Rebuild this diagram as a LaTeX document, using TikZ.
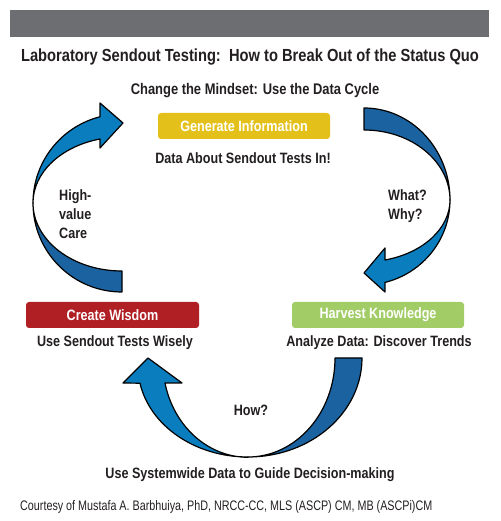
\documentclass[tikz,border=0pt]{standalone}
\usepackage{fontspec}
\newfontfamily\cond{Liberation Sans}[FakeStretch=0.84]
\newfontfamily\condthin{Liberation Sans}[FakeStretch=0.78]
\usetikzlibrary{positioning}
\definecolor{barGray}{HTML}{6D6E71}
\definecolor{inkBlack}{HTML}{231F20}
\definecolor{genYellow}{HTML}{E4C11A}
\definecolor{wisRed}{HTML}{B01F24}
\definecolor{harGreen}{HTML}{A2CC66}
\definecolor{lightBlue}{HTML}{0A7DBE}
\definecolor{darkBlue}{HTML}{1B63A0}

\begin{document}
\begin{tikzpicture}[x=1pt,y=1pt,
    lbl/.style={font=\cond\bfseries\fontsize{15}{19}\selectfont,text=inkBlack,
      inner sep=0pt},
    stage/.style={lbl,text=white,rounded corners=3pt,minimum width=172pt,
      minimum height=26pt},
    ribbon/.style={draw=black,line width=1.2pt,line join=round}]

    \useasboundingbox (0,0) rectangle (500,521);

    % the header
    \fill[barGray] (10,484) rectangle (489,511);
    \node[lbl,font=\cond\bfseries\fontsize{17.5}{20}\selectfont] (title) at (250,464)
      {Laboratory Sendout Testing:\ \ How to Break Out of the Status Quo};
    \node[lbl,font=\cond\bfseries\fontsize{15.4}{19}\selectfont] (mindset) at (255,430)
      {Change the Mindset: Use the Data Cycle};

    % the stages
    \node[stage,fill=genYellow] (gen) at (244,395) {Generate Information};
    \node[lbl] (gentxt) at (243,363) {Data About Sendout Tests In!};
    \node[stage,fill=wisRed,minimum width=173pt] (wis) at (112.5,206) {Create Wisdom};
    \node[lbl] (wistxt) at (115,178) {Use Sendout Tests Wisely};
    \node[stage,fill=harGreen] (har) at (378,206) {Harvest Knowledge};
    \node[lbl] (hartxt) at (379,178) {Analyze Data: Discover Trends};

    % the arrows
    \filldraw[ribbon,fill=darkBlue] (122,229)
      arc[start angle=-90,end angle=-180,radius=89pt]
      arc[start angle=180,end angle=270,x radius=89pt,y radius=68pt] -- cycle;
    \filldraw[ribbon,fill=lightBlue] (33,318)
      arc[start angle=180,end angle=104.3,radius=89pt]
      -- (100,418) -- (123,398) -- (100,373) -- (100,382)
      arc[start angle=104.3,end angle=180,x radius=89pt,y radius=66pt] -- cycle;

    \filldraw[ribbon,fill=darkBlue] (364,413)
      arc[start angle=90,end angle=0,x radius=86pt,y radius=92pt]
      arc[start angle=0,end angle=90,x radius=86pt,y radius=70pt] -- cycle;
    \filldraw[ribbon,fill=lightBlue] (450,321)
      arc[start angle=0,end angle=-75.9,x radius=86pt,y radius=85pt]
      -- (385,229) -- (364,248) -- (385,273) -- (385,261)
      arc[start angle=-75.9,end angle=0,x radius=86pt,y radius=62pt] -- cycle;

    \filldraw[ribbon,fill=darkBlue] (248,64)
      arc[start angle=270,end angle=360,x radius=114pt,y radius=99pt]
      -- (335,163)
      arc[start angle=0,end angle=-90,x radius=87pt,y radius=99pt] -- cycle;
    \filldraw[ribbon,fill=lightBlue] (248,64)
      arc[start angle=270,end angle=190.9,x radius=110pt,y radius=91pt]
      -- (123,138) -- (148,163) -- (182,138) -- (165,138)
      arc[start angle=192.6,end angle=270,x radius=85pt,y radius=95pt] -- cycle;

    % the questions
    \node[lbl,align=left,anchor=west] (care) at (59,307) {High-\\value\\Care};
    \node[lbl,align=left,anchor=west] (why) at (388,315) {What?\\Why?};
    \node[lbl] (how) at (251,111) {How?};
    \node[lbl] (system) at (250,46) {Use Systemwide Data to Guide Decision-making};

    % the credit
    \node[lbl,font=\condthin\fontsize{13.8}{16}\selectfont,anchor=west] (credit) at (20,14)
      {Courtesy of Mustafa A. Barbhuiya, PhD, NRCC-CC, MLS (ASCP) CM, MB (ASCPi)CM};
  \end{tikzpicture}
\end{document}
